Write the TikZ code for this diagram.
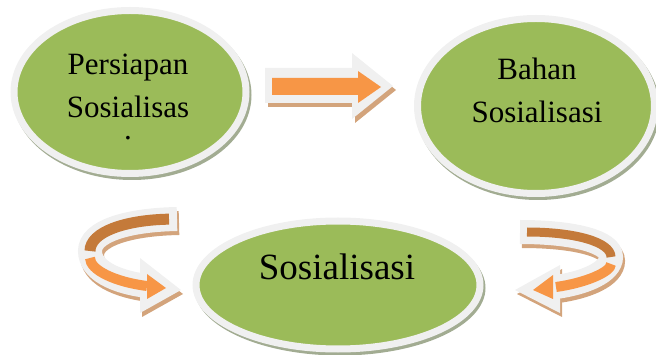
\documentclass[tikz,border=0pt]{standalone}
\usepackage{fontspec}
\setmainfont{Liberation Serif}
\usepackage{tikz}
\usetikzlibrary{calc,shapes.geometric}
\definecolor{leaf}{HTML}{9BBB59}
\definecolor{rim}{HTML}{F0F0F0}
\definecolor{dusk}{HTML}{A2AC92}
\definecolor{peel}{HTML}{F79646}
\definecolor{rust}{HTML}{C47A3A}
\definecolor{sand}{HTML}{D3A47C}
\tikzset{
  bubble/.style={ellipse, draw=rim, line width=7pt, fill=leaf, inner sep=0pt},
  word/.style={anchor=base, inner sep=0pt, align=center, font=\fontsize{31}{43}\selectfont},
  bigword/.style={word, font=\fontsize{37}{44}\selectfont},
  tube/.style={line width=24pt, line cap=butt}
}

\begin{document}
\begin{tikzpicture}[x=1pt,y=-1pt]
\useasboundingbox (0,0) rectangle (656,355);
\coordinate (P) at (130,92);
\coordinate (B) at (536,106);
\coordinate (S) at (338,285);
% shadows of the bubbles
\fill[dusk] ($(P)+(2,3)$) ellipse [x radius=119.5, y radius=85];
\fill[dusk] ($(B)+(2,3)$) ellipse [x radius=122, y radius=91];
\fill[dusk] ($(S)+(2,3)$) ellipse [x radius=145.5, y radius=67.5];
\node[bubble, minimum width=232pt, minimum height=163pt] (Pb) at (P) {};
\node[bubble, minimum width=237pt, minimum height=175pt] (Bb) at (B) {};
\node[bubble, minimum width=284pt, minimum height=128pt] (Sb) at (S) {};
\node[word] (P1) at (128,140) {Persiapan\\Sosialisas\\[-21pt].};
\node[word] (B1) at (537,123) {Bahan\\Sosialisasi};
\node[bigword] (S1) at (337,280) {Sosialisasi};
% straight arrow
\fill[sand, shift={(3,4)}] (265,68) -- (352,68) -- (352,53) -- (393,86) -- (352,119) -- (352,103) -- (265,103) -- cycle;
\fill[rim] (265,68) -- (352,68) -- (352,53) -- (393,86) -- (352,119) -- (352,103) -- (265,103) -- cycle;
\fill[peel] (272,78) -- (358,78) -- (358,71) -- (381,87) -- (358,103) -- (358,95) -- (272,95) -- cycle;
% left turn
\draw[tube, sand, shift={(2,4)}] (177,219) .. controls (125,220) and (90,232) .. (90,251) .. controls (90,270) and (115,282) .. (147,286);
\fill[sand, shift={(2,4)}] (140,258) -- (181,290) -- (140,313) -- cycle;
\draw[tube, rim] (177,219) .. controls (125,220) and (90,232) .. (90,251) .. controls (90,270) and (115,282) .. (147,286);
\fill[rim] (140,258) -- (181,290) -- (140,313) -- cycle;
\draw[rust, line width=11pt, shorten <=8pt] (177,219) .. controls (125,220) and (90,232) .. (90,251);
\draw[peel, line width=10pt, shorten <=7pt] (90,251) .. controls (90,270) and (115,282) .. (147,286);
\fill[peel] (147,274) -- (166,288) -- (147,299) -- cycle;
% right turn
\draw[tube, sand, shift={(2,4)}] (520,232) .. controls (575,232) and (611,242) .. (611,257) .. controls (611,272) and (585,283) .. (556,287);
\fill[sand, shift={(2,4)}] (560,265) -- (515,290) -- (560,313) -- cycle;
\draw[tube, rim] (520,232) .. controls (575,232) and (611,242) .. (611,257) .. controls (611,272) and (585,283) .. (556,287);
\fill[rim] (560,265) -- (515,290) -- (560,313) -- cycle;
\draw[rust, line width=9pt, shorten <=7pt] (520,232) .. controls (575,232) and (611,242) .. (611,257);
\draw[peel, line width=10pt, shorten <=7pt] (611,257) .. controls (611,272) and (585,283) .. (556,287);
\fill[peel] (553,275) -- (533,290) -- (553,299) -- cycle;
\end{tikzpicture}
\end{document}
